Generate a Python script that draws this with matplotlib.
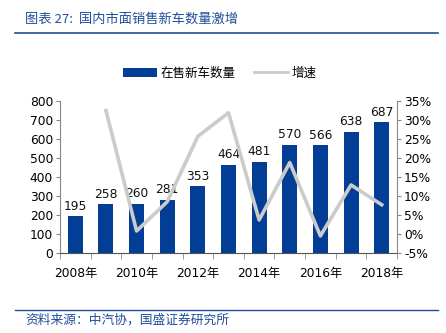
import matplotlib
matplotlib.use("Agg")
import matplotlib.pyplot as plt
from matplotlib.lines import Line2D
import numpy as np

plt.rcParams['font.family'] = ['DejaVu Sans', 'Noto Sans CJK SC']

years = ["2008年", "2009年", "2010年", "2011年", "2012年", "2013年", "2014年", "2015年", "2016年", "2017年", "2018年"]
sales = [195, 258, 260, 281, 353, 464, 481, 570, 566, 638, 687]
growth = [None, 32.5, 0.8, 8.5, 25.7, 31.9, 3.7, 18.8, -0.5, 12.9, 7.7]
left_ticks = [0, 100, 200, 300, 400, 500, 600, 700, 800]
right_ticks = [-5, 0, 5, 10, 15, 20, 25, 30, 35]

title = "图表 27:  国内市面销售新车数量激增"
source = "资料来源：中汽协，国盛证券研究所"

blue = "#023E96"
grey = "#CBCBCB"
title_blue = "#1F4E9A"

fig = plt.figure(figsize=(4.46, 3.33), dpi=100)
W, H = 446, 333
ax = fig.add_axes([60 / W, 1 - 253 / H, 337 / W, 152 / H])
x = np.arange(len(years))
bars = ax.bar(x, sales, width=0.49, color=blue, zorder=2, label="在售新车数量")
for xi, v in zip(x, sales):
    ax.text(xi, v + 18, str(v), ha='center', va='bottom', fontsize=8.8, color='#111111')
ax.set_xlim(-0.5, len(years) - 0.5)
ax.set_ylim(0, 800)
ax.set_yticks(left_ticks)
ax.set_yticklabels([str(t) for t in left_ticks], fontsize=8.8)
ax.set_xticks(x[::2])
ax.set_xticklabels(years[::2], fontsize=8.8, family=['DejaVu Sans', 'Noto Sans CJK SC'])
ax.set_xticks(np.arange(-0.5, len(years), 1), minor=True)
ax.tick_params(axis='x', which='major', length=0, pad=10)
ax.tick_params(axis='x', which='minor', length=4, color='#888888')
ax.tick_params(axis='y', length=3, color='#888888', pad=2)
ax.spines['top'].set_visible(False)
ax.spines['left'].set_color('#888888')
ax.spines['right'].set_visible(False)
ax.spines['bottom'].set_color('#555555')

ax2 = ax.twinx()
gx = [xi for xi, g in zip(x, growth) if g is not None]
gy = [g for g in growth if g is not None]
line, = ax2.plot(gx, gy, color=grey, lw=2.6, zorder=3, label="增速")
ax2.set_ylim(-5, 35)
ax2.set_yticks(right_ticks)
ax2.set_yticklabels([f"{t}%" for t in right_ticks], fontsize=8.8)
ax2.tick_params(axis='y', length=3, color='#888888', pad=2)
ax2.spines['top'].set_visible(False)
ax2.spines['left'].set_visible(False)
ax2.spines['bottom'].set_visible(False)
ax2.spines['right'].set_color('#888888')

line_handle = Line2D([], [], color=grey, lw=2.0)
fig.legend([bars, line_handle], ["在售新车数量", "增速"], loc='center', bbox_to_anchor=(220 / W, 1 - 73 / H),
           ncol=2, frameon=False, handlelength=2.7, handleheight=0.75, handletextpad=0.3,
           columnspacing=1.5, prop={'family': ['Noto Sans CJK SC'], 'size': 9})

fig.text(25 / W, 1 - 19 / H, title, fontsize=9.5, color=title_blue, style='italic', va='center',
         family=['Noto Sans CJK SC', 'DejaVu Sans'])
fig.add_artist(plt.Line2D([15 / W, 438 / W], [1 - 33 / H, 1 - 33 / H], color=title_blue, lw=1.2))
fig.add_artist(plt.Line2D([15 / W, 438 / W], [1 - 310 / H, 1 - 310 / H], color=title_blue, lw=1.0))
fig.text(25 / W, 1 - 320 / H, source, fontsize=9.2, color=title_blue, style='italic', va='center',
         family=['Noto Sans CJK SC', 'DejaVu Sans'])

fig.savefig("out.png", dpi=100)
